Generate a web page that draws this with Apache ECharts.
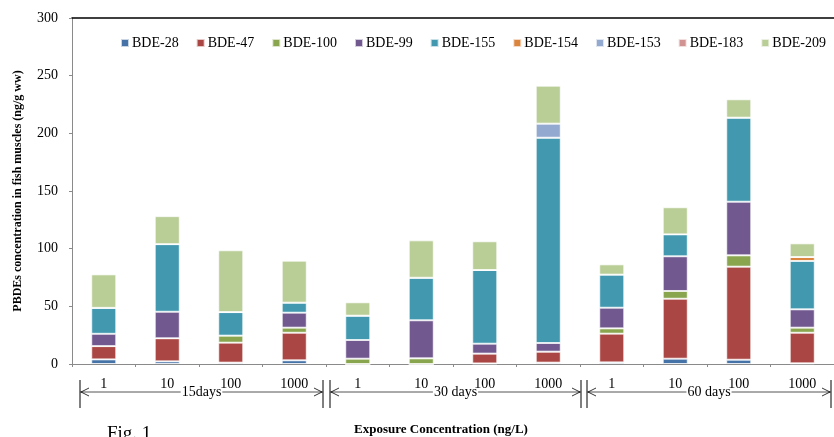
<!DOCTYPE html>
<html>
<head>
<meta charset="utf-8">
<script src="https://cdn.jsdelivr.net/npm/echarts@6/dist/echarts.min.js"></script>
<style>html,body{margin:0;padding:0;background:#fff;}#c{width:834px;height:437px;}</style>
</head>
<body>
<div id="c"></div>
<script>
var categories = ['1','10','100','1000','1','10','100','1000','1','10','100','1000'];
var groups = ['15days','30 days','60 days'];
var seriesNames = ['BDE-28','BDE-47','BDE-100','BDE-99','BDE-155','BDE-154','BDE-153','BDE-183','BDE-209'];
var colors = ['#4572A7','#AA4643','#89A54E','#71588F','#4198AF','#DB843D','#93A9CF','#D19392','#B9CD96'];
var bde28  = [4,   2.3, 1.2, 3.2, 0,    0,    0.5, 1.2, 1.4, 4.6, 3.7, 0.6];
var bde47  = [11.5,20,  17.3,23.9,0,    0,    8.5, 9.5, 24.9,52,  80.7,26.5];
var bde100 = [0,   0,   6.1, 4.4, 4.6,  4.9,  0,   0,   4.6, 6.7, 9.8, 4.4];
var bde99  = [10.7,23,  0,   13,  16.2, 33,   8.6, 7.5, 17.9,30.1,46.5,15.9];
var bde155 = [22.5,58.6,20.4,8.7, 21.1, 36.9, 63.9,178, 28.7,19,  72.9,41.9];
var bde154 = [0,   0,   0,   0,   0,    0,    0,   0,   0,   0,   0,   3.5];
var bde153 = [0,   0,   0,   0,   0,    0,    0,   12.2,0,   0,   0,   0];
var bde183 = [0,   0,   0,   0,   0,    0,    0,   0,   0,   0,   0,   0];
var bde209 = [29,  24.3,53.6,36.4,11.6, 32.4, 24.9,32.9,8.9, 23.5,15.9,11.8];
var yTicks = [0,50,100,150,200,250,300];

var allData = [bde28,bde47,bde100,bde99,bde155,bde154,bde153,bde183,bde209];
var serif = '"Liberation Serif","DejaVu Serif",serif';

var chart = echarts.init(document.getElementById('c'));
var series = seriesNames.map(function(n,i){
  return {
    name:n, type:'bar', stack:'total', data:allData[i], barWidth:25,
    itemStyle:{color:colors[i], borderColor:'rgba(255,255,255,0.7)', borderWidth:1},
    emphasis:{disabled:true}
  };
});
chart.setOption({
  animation:false,
  color:colors,
  legend:{
    data:seriesNames, left:120, top:36, width:714, padding:0,
    itemWidth:8, itemHeight:8, itemGap:17,
    icon:'rect',
    textStyle:{fontFamily:serif, fontSize:14, color:'#000', padding:[0,0,0,-2]}
  },
  grid:{left:72, top:18, right:-2, bottom:73},
  xAxis:[{
    type:'category', data:categories, position:'bottom',
    axisLine:{lineStyle:{color:'#8a8a8a', width:1}},
    axisTick:{show:true, alignWithLabel:false, length:3, lineStyle:{color:'#8a8a8a'}},
    axisLabel:{fontFamily:serif, fontSize:14, color:'#000', margin:13}
  },{
    type:'category', data:categories, position:'top',
    axisLine:{lineStyle:{color:'#000', width:1.5}},
    axisTick:{show:false}, axisLabel:{show:false}
  }],
  yAxis:{
    type:'value', min:0, max:300, interval:50,
    axisLine:{show:true, lineStyle:{color:'#8a8a8a'}},
    axisTick:{show:true, length:3, lineStyle:{color:'#8a8a8a'}},
    splitLine:{show:false},
    axisLabel:{fontFamily:serif, fontSize:14, color:'#000', margin:14,
      formatter:function(v){return yTicks.indexOf(v)>=0? String(v):'';}},
    name:'PBDEs concentration in fish muscles (ng/g ww)',
    nameLocation:'middle', nameGap:48,
    nameTextStyle:{fontFamily:serif, fontSize:12, fontWeight:'bold', color:'#000'}
  },
  series:series
});

// group annotations below axis
var c0 = chart.convertToPixel({xAxisIndex:0}, 0);
var c1 = chart.convertToPixel({xAxisIndex:0}, 1);
var band = c1 - c0;
var y0 = chart.convertToPixel({yAxisIndex:0}, 0);
var ly = y0 + 28, vt = y0 + 16, vb = y0 + 44;
var els = [];
var lineStyle = {stroke:'#000', lineWidth:1};
for (var g=0; g<3; g++){
  var bL = c0 - band/2 + g*4*band;
  var bR = bL + 4*band;
  var xL = bL + (g===0?8:4+ (g===2?3:0));
  var xR = bR - (g===1?-1:3);
  els.push({type:'line', shape:{x1:xL,y1:ly,x2:xR,y2:ly}, style:{stroke:'#555', lineWidth:1}});
  els.push({type:'line', shape:{x1:xL,y1:vt,x2:xL,y2:vb}, style:lineStyle});
  els.push({type:'line', shape:{x1:xR,y1:vt,x2:xR,y2:vb}, style:lineStyle});
  els.push({type:'polyline', shape:{points:[[xL+9,ly-4],[xL+1,ly],[xL+9,ly+4]]}, style:{stroke:'#000', lineWidth:0.8, fill:null}});
  els.push({type:'polyline', shape:{points:[[xR-9,ly-4],[xR-1,ly],[xR-9,ly+4]]}, style:{stroke:'#000', lineWidth:0.8, fill:null}});
  var mid = (xL + Math.min(xR, 834))/2;
  els.push({type:'text', x:mid, y:ly, style:{text:groups[g], font:'14px '+serif, fill:'#000', align:'center', verticalAlign:'middle', backgroundColor:'#fff', padding:[0,1]}});
}
els.push({type:'text', x:441, y:430, style:{text:'Exposure Concentration (ng/L)', font:'bold 13px '+serif, fill:'#000', align:'center', verticalAlign:'middle'}});
els.push({type:'text', x:107, y:425, style:{text:'Fig. 1', font:'19px '+serif, fill:'#000', align:'left', verticalAlign:'top'}});
chart.setOption({graphic:{elements:els}});
</script>
</body>
</html>
